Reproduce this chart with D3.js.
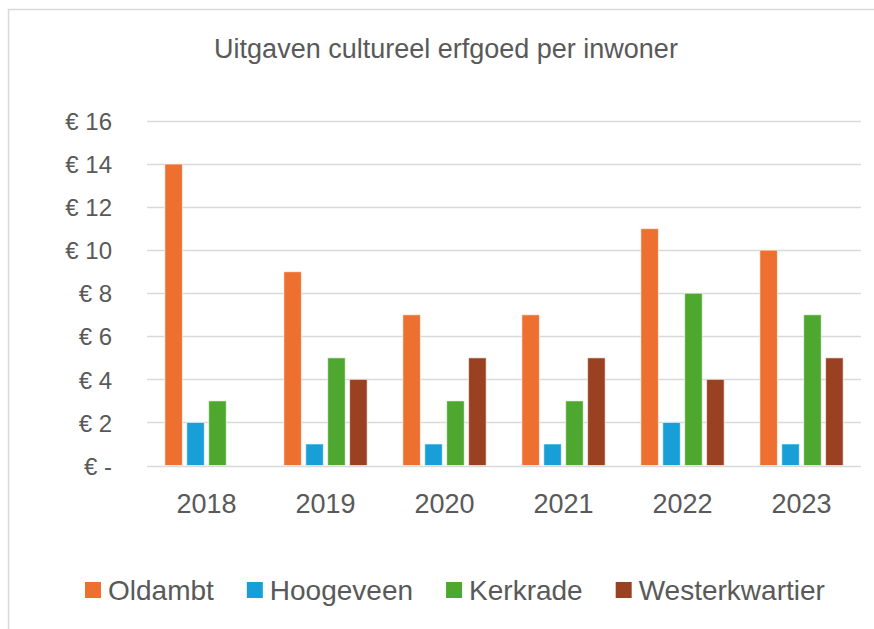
<!DOCTYPE html>
<html>
<head>
<meta charset="utf-8">
<script src="https://cdn.jsdelivr.net/npm/d3@7"></script>
<style>
  html, body { margin: 0; padding: 0; background: #fff; }
  svg { display: block; }
  text { font-family: "Liberation Sans", Arial, sans-serif; fill: #595959; }
</style>
</head>
<body>
<svg id="chart" width="874" height="629"></svg>
<script>
const title = "Uitgaven cultureel erfgoed per inwoner";
const years = ["2018", "2019", "2020", "2021", "2022", "2023"];
const seriesNames = ["Oldambt", "Hoogeveen", "Kerkrade", "Westerkwartier"];
const oldambt        = [14, 9, 7, 7, 11, 10];
const hoogeveen      = [2, 1, 1, 1, 2, 1];
const kerkrade       = [3, 5, 3, 3, 8, 7];
const westerkwartier = [0, 4, 5, 5, 4, 5];
const yTicks = [0, 2, 4, 6, 8, 10, 12, 14, 16];
const colors = ["#ED7031", "#199FD8", "#4EA72E", "#9A4121"];

const seriesValues = [oldambt, hoogeveen, kerkrade, westerkwartier];
const data = years.map((y, i) => ({ year: y, values: seriesNames.map((s, j) => ({ key: s, value: seriesValues[j][i], idx: j })) }));

const svg = d3.select("#chart");

// chart frame (top and left border)
svg.append("line").attr("x1", 8).attr("x2", 874).attr("y1", 9.5).attr("y2", 9.5)
  .attr("stroke", "#d9d9d9").attr("stroke-width", 1.5);
svg.append("line").attr("x1", 8.5).attr("x2", 8.5).attr("y1", 9).attr("y2", 629)
  .attr("stroke", "#d9d9d9").attr("stroke-width", 1.5);

const plot = { left: 147, right: 861, top: 121, bottom: 465.5 };

const x0 = d3.scaleBand().domain(years).range([plot.left, plot.right]).paddingInner(0.3).paddingOuter(0.15);
const x1 = d3.scaleBand().domain(seriesNames).range([0, x0.bandwidth()]).paddingInner(0.2).paddingOuter(0);
const y = d3.scaleLinear().domain([0, 16]).range([plot.bottom, plot.top]);

// title
svg.append("text").attr("x", 446).attr("y", 58).attr("text-anchor", "middle")
  .style("font-size", "27px").text(title);

// gridlines
svg.append("g").selectAll("line").data(yTicks).join("line")
  .attr("x1", plot.left).attr("x2", plot.right)
  .attr("y1", d => Math.round(y(d)) + 0.5).attr("y2", d => Math.round(y(d)) + 0.5)
  .attr("stroke", "#d9d9d9").attr("stroke-width", 1.5);

// y axis labels
const yAxis = d3.axisLeft(y).tickValues(yTicks).tickSize(0).tickPadding(0)
  .tickFormat(d => d === 0 ? "€ -" : "€ " + d);
const gy = svg.append("g").attr("transform", `translate(${112},0)`).call(yAxis);
gy.select(".domain").remove();
gy.selectAll("text").style("font-size", "24px").style("font-family", null).attr("fill", "#595959").attr("dy", "0.36em");

// bars
const groups = svg.append("g").selectAll("g").data(data).join("g")
  .attr("transform", d => `translate(${x0(d.year)},0)`);
groups.selectAll("rect").data(d => d.values.filter(v => v.value > 0)).join("rect")
  .attr("x", d => x1(d.key)).attr("width", x1.bandwidth())
  .attr("y", d => y(d.value)).attr("height", d => y(0) - y(d.value))
  .attr("fill", d => colors[d.idx]).attr("stroke", "#ffffff").attr("stroke-opacity", 0.6).attr("stroke-width", 1);

// x axis labels
const xAxis = d3.axisBottom(x0).tickSize(0).tickPadding(0);
const gx = svg.append("g").attr("transform", `translate(0,${513})`).call(xAxis);
gx.select(".domain").remove();
gx.selectAll("text").style("font-size", "27px").style("font-family", null).attr("fill", "#595959").attr("dy", 0);

// legend
const legend = svg.append("g");
let lx = 85;
seriesNames.forEach((s, i) => {
  legend.append("rect").attr("x", lx).attr("y", 582).attr("width", 16).attr("height", 16).attr("fill", colors[i]);
  const t = legend.append("text").attr("x", lx + 23).attr("y", 600).style("font-size", "28px").text(s);
  lx += 23 + t.node().getComputedTextLength() + 33;
});
</script>
</body>
</html>
